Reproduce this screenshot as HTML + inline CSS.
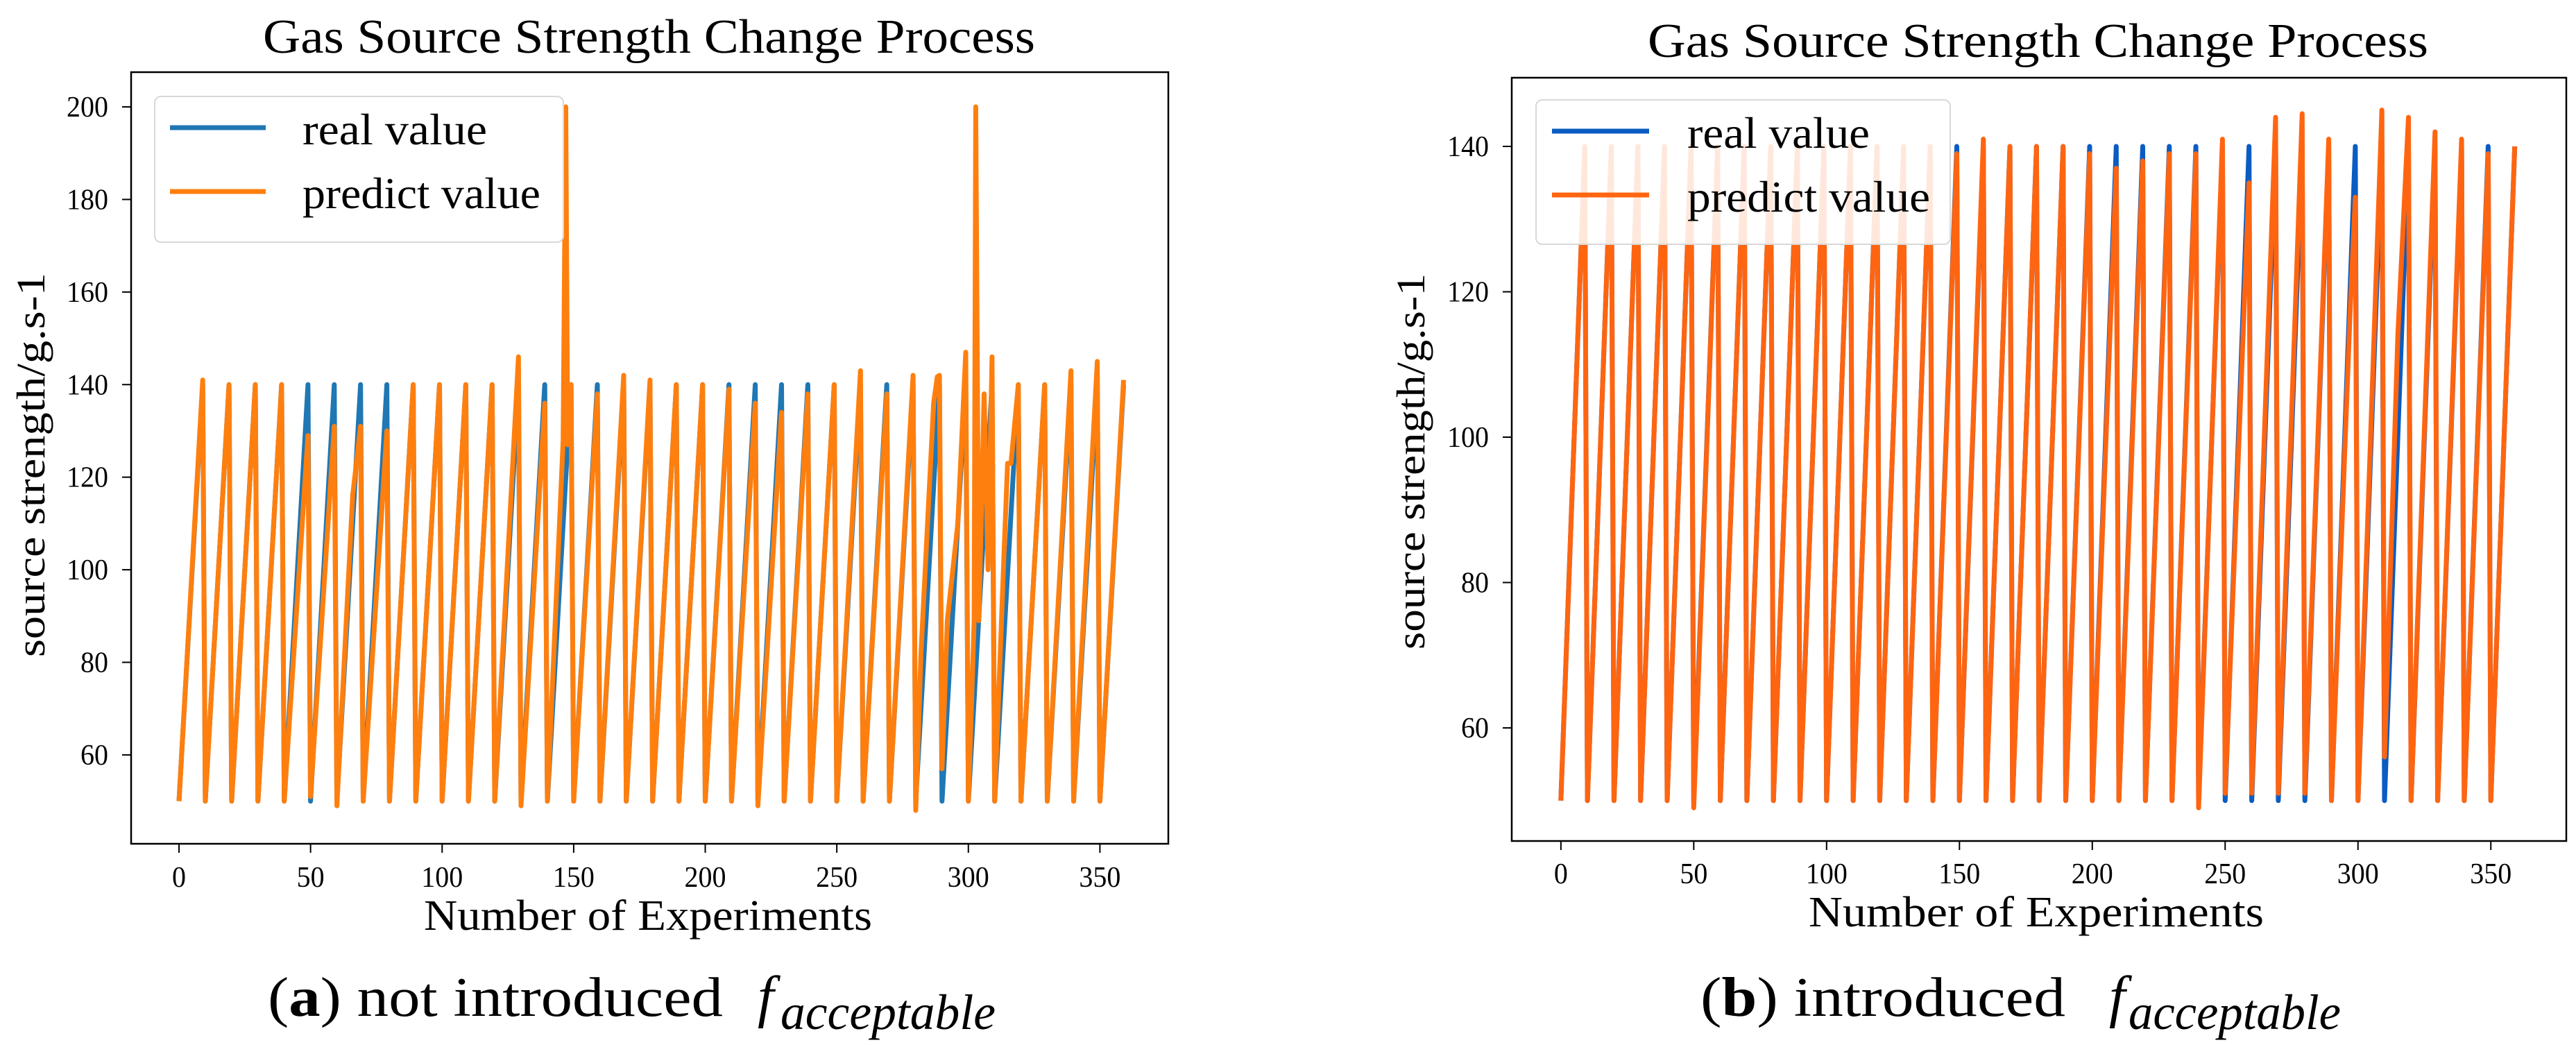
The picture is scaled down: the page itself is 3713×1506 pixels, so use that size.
<!DOCTYPE html>
<html><head><meta charset="utf-8"><title>Gas Source Strength Change Process</title>
<style>html,body{margin:0;padding:0;background:#fff}svg{display:block}text{font-family:"Liberation Serif",serif;fill:#000}</style>
</head><body>
<svg id="fig" xmlns="http://www.w3.org/2000/svg" width="3713" height="1506" viewBox="0 0 3713 1506">
<rect width="3713" height="1506" fill="#fff"/>
<g id="left"></g>
<g id="right"></g>
<text x="386" y="1464" font-size="80" textLength="656" lengthAdjust="spacingAndGlyphs">(<tspan font-weight="bold">a</tspan>) not introduced</text>
<text x="1092" y="1464" font-size="84" font-style="italic">f</text>
<text x="1125" y="1483" font-size="72" font-style="italic" textLength="310" lengthAdjust="spacingAndGlyphs">acceptable</text>
<text x="2451" y="1464" font-size="80" textLength="526" lengthAdjust="spacingAndGlyphs">(<tspan font-weight="bold">b</tspan>) introduced</text>
<text x="3040" y="1464" font-size="84" font-style="italic">f</text>
<text x="3068" y="1483" font-size="72" font-style="italic" textLength="306" lengthAdjust="spacingAndGlyphs">acceptable</text>
</svg>
<script>
// ---- data ----
const cycleStart = [0,10,20,30,40,50,60,70,80,90,100,110,120,130,140,150,160,170,180,190,200,210,220,230,240,250,260,270,280,290,300,310,320,330,340,350];
const xTicks = [0,50,100,150,200,250,300,350];
const leftYTicks = [60,80,100,120,140,160,180,200];
const rightYTicks = [60,80,100,120,140];

const leftRealTrough = [50,50,50,50,50,50,50,50,50,50,50,50,50,50,50,50,50,50,50,50,50,50,50,50,50,50,50,50,50,50,50,50,50,50,50,50];
const leftRealPeak   = [140,140,140,140,140,140,140,140,140,140,140,140,140,140,140,140,140,140,140,140,140,140,140,140,140,140,140,140,140,140,140,140,140,140,140,140];
const leftPredTrough = [50,50,50,50,50,51,49,50,50,50,50,50,50,49,50,50,50,50,50,50,50,50,49,50,50,50,50,50,48,57,50,50,50,50,50,50];
const leftPredPeak   = [141,140,140,140,129,131,131,130,140,140,140,140,146,136,140,138,142,141,140,140,139,136,134,138,140,143,138,142,142,147,146,140,140,143,145,141];
const leftPredExtraX = [66,146,147,147.7,282,286.8,288.2,292,296,302.2,302.8,304,306,307.5,313.6,314.9,316.2];
const leftPredExtraY = [116,128,200,127,82,136,141.7,89,110,89,200,89,138,100,104,123,123];

const rightRealTrough = [50,50,50,50,50,50,50,50,50,50,50,50,50,50,50,50,50,50,50,50,50,50,50,50,50,50,50,50,50,50,50,50,50,50,50,50];
const rightRealPeak   = [140,140,140,140,140,140,140,140,140,140,140,140,140,140,140,140,140,140,140,140,140,140,140,140,140,140,140,140,140,140,140,140,140,140,140,140];
const rightPredTrough = [50,50,50,50,50,49,50,50,50,50,50,50,50,50,50,50,50,50,50,50,50,50,50,50,49,51,51,51,51,50,50,56,50,50,50,50];
const rightPredPeak   = [140,140,140,140,140,140,140,140,140,140,140,140,140,140,139,141,140,140,140,139,137,138,139,139,141,135,144,144.5,141,133,145,144,142,141,139,140];
const rightPredExtraX = [297,315];
const rightPredExtraY = [117,114];

const NS = "http://www.w3.org/2000/svg";
function mk(tag, attrs, parent){
  const e = document.createElementNS(NS, tag);
  for (const k in attrs) e.setAttribute(k, attrs[k]);
  parent.appendChild(e);
  return e;
}
function buildSeries(troughs, peaks, exX, exY){
  const pts = [];
  for (let i=0;i<cycleStart.length;i++){
    pts.push([cycleStart[i], troughs[i]]);
    pts.push([cycleStart[i]+9, peaks[i]]);
  }
  for (let i=0;i<exX.length;i++) pts.push([exX[i], exY[i]]);
  pts.sort((a,b)=>a[0]-b[0]);
  return pts;
}

function drawChart(g, cfg){
  const {x0,x1,y0,y1,xd,yd,yTicks,id} = cfg;
  const sx = v => x0 + (v - xd[0]) / (xd[1]-xd[0]) * (x1-x0);
  const sy = v => y1 - (v - yd[0]) / (yd[1]-yd[0]) * (y1-y0);
  const cp = mk('clipPath', {id:'clip-'+id}, g);
  mk('rect', {x:x0, y:y0, width:x1-x0, height:y1-y0}, cp);
  const series = [
    {pts: cfg.real, color: cfg.blue, name:'real-value-line'},
    {pts: cfg.pred, color: cfg.orange, name:'predict-value-line'}
  ];
  for (const s of series){
    const d = s.pts.map((p,i)=>(i?'L':'M')+sx(p[0]).toFixed(1)+','+sy(p[1]).toFixed(1)).join(' ');
    const path = mk('path', {d:d, fill:'none', stroke:s.color, 'stroke-width':7, 'stroke-linejoin':'round', 'clip-path':'url(#clip-'+id+')'}, g);
    
    
  }
  const frame = mk('rect', {x:x0, y:y0, width:x1-x0, height:y1-y0, fill:'none', stroke:'#000', 'stroke-width':2.5}, g);
  
  
  for (const t of xTicks){
    const x = sx(t);
    const tk = mk('line', {x1:x, x2:x, y1:y1, y2:y1+13, stroke:'#000', 'stroke-width':2}, g);
    
    
    const lb = mk('text', {x:x, y:cfg.xTickBase, 'font-size':42, 'text-anchor':'middle', textLength:String(t).length*20, lengthAdjust:'spacingAndGlyphs'}, g);
    lb.textContent = t;
    
    
  }
  for (const t of yTicks){
    const y = sy(t);
    const tk = mk('line', {x1:x0-13, x2:x0, y1:y, y2:y, stroke:'#000', 'stroke-width':2}, g);
    
    
    const lb = mk('text', {x:x0-33, y:y+14, 'font-size':42, 'text-anchor':'end', textLength:String(t).length*20, lengthAdjust:'spacingAndGlyphs'}, g);
    lb.textContent = t;
    
    
  }
  const ti = mk('text', {x:cfg.titleX, y:cfg.titleY, 'font-size':70, textLength:cfg.titleLen, lengthAdjust:'spacingAndGlyphs'}, g);
  ti.textContent = 'Gas Source Strength Change Process';
  
  
  const xl = mk('text', {x:cfg.xlX, y:cfg.xlY, 'font-size':62, textLength:cfg.xlLen, lengthAdjust:'spacingAndGlyphs'}, g);
  xl.textContent = 'Number of Experiments';
  
  
  const yl = mk('text', {x:0, y:0, 'font-size':58, 'text-anchor':'middle', textLength:cfg.ylLen, lengthAdjust:'spacingAndGlyphs', transform:'translate('+cfg.ylX+','+cfg.ylY+') rotate(-90)'}, g);
  yl.textContent = 'source strength/g.s-1';
  
  
  const L = cfg.legend;
  const lg = mk('g', {}, g);
  
  
  mk('rect', {x:L.x, y:L.y, width:L.w, height:L.h, rx:9, fill:'#fff', 'fill-opacity':0.85, stroke:'#d8d8d8', 'stroke-width':2}, lg);
  const entries = [['real value', cfg.blue, L.y1, L.len1],['predict value', cfg.orange, L.y2, L.len2]];
  for (const [txt,col,by,len] of entries){
    const ln = mk('line', {x1:L.lx1, x2:L.lx2, y1:by-24, y2:by-24, stroke:col, 'stroke-width':7}, lg);
    
    
    const t = mk('text', {x:L.tx, y:by, 'font-size':64, textLength:len, lengthAdjust:'spacingAndGlyphs'}, lg);
    t.textContent = txt;
    
    
  }
}

drawChart(document.getElementById('left'), {
  id:'l', x0:189, x1:1684, y0:104, y1:1216, xd:[-18.2,376], yd:[40.8,207.5], yTicks:leftYTicks,
  real: buildSeries(leftRealTrough, leftRealPeak, [], []),
  pred: buildSeries(leftPredTrough, leftPredPeak, leftPredExtraX, leftPredExtraY),
  blue:'#1f77b4', orange:'#ff7f0e', xTickBase:1278,
  titleX:379, titleY:76, titleLen:1113,
  xlX:611, xlY:1340, xlLen:646, ylX:64, ylY:670, ylLen:554,
  legend:{x:223,y:139,w:589,h:210,lx1:245,lx2:383,tx:436,y1:208,y2:300,len1:266,len2:343}
});
drawChart(document.getElementById('right'), {
  id:'r', x0:2179, x1:3699, y0:112, y1:1212, xd:[-18.5,378.4], yd:[44.44,149.45], yTicks:rightYTicks,
  real: buildSeries(rightRealTrough, rightRealPeak, [], []),
  pred: buildSeries(rightPredTrough, rightPredPeak, rightPredExtraX, rightPredExtraY),
  blue:'#0a5cc2', orange:'#ff6510', xTickBase:1273,
  titleX:2375, titleY:82, titleLen:1125,
  xlX:2607, xlY:1335, xlLen:656, ylX:2053, ylY:665, ylLen:542,
  legend:{x:2214,y:144,w:597,h:208,lx1:2237,lx2:2377,tx:2432,y1:213,y2:305,len1:263,len2:350}
});
</script>
</body></html>
